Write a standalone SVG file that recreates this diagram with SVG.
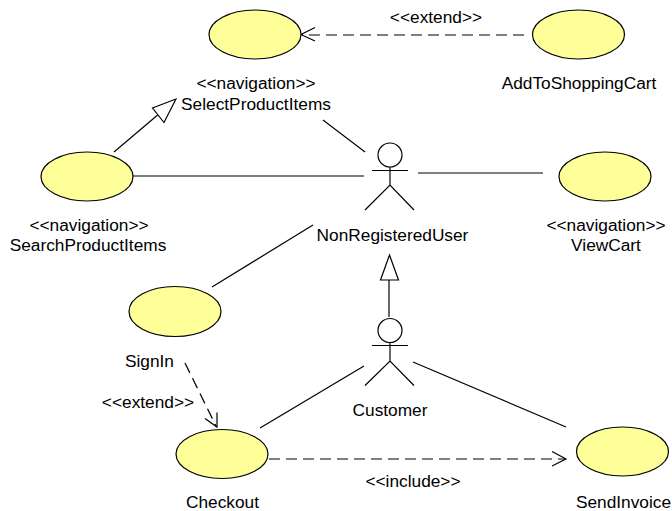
<svg xmlns="http://www.w3.org/2000/svg" width="672" height="511" viewBox="0 0 672 511">
<style>
.uc{fill:#ffff99;stroke:#000;stroke-width:1.2}
.ln{fill:none;stroke:#000;stroke-width:1.2}
.dash{stroke-dasharray:11 6}
.tri{fill:#fff;stroke:#000;stroke-width:1.2}
text{font-family:"Liberation Sans",Arial,sans-serif;font-size:17.300px;fill:#000;text-anchor:middle}
</style>
<rect width="672" height="511" fill="#fff"/>
<g id="connectors">
<path class="ln dash" d="M524 35H302"/>
<path class="ln" d="M315 27.500L301 34.500L315 41"/>
<path class="ln" d="M114 152L160 113"/>
<polygon class="tri" points="176,99 164,122.500 152.500,108"/>
<path class="ln" d="M323 120L365 152"/>
<path class="ln" d="M133 176H364"/>
<path class="ln" d="M418 173H543"/>
<path class="ln" d="M212 287L313 225"/>
<path class="ln" d="M389 317V280"/>
<polygon class="tri" points="389.500,255 398.500,280 380.500,280"/>
<path class="ln dash" d="M185 363L216 426"/>
<path class="ln" d="M205 418.500L217 427L217 412.500"/>
<path class="ln" d="M260 428L364 366"/>
<path class="ln" d="M413 362L566 427"/>
<path class="ln dash" d="M269 459H565"/>
<path class="ln" d="M552 451.500L566 459L552 466"/>
</g>
<g id="SelectProductItems"><ellipse class="uc" cx="255" cy="34.500" rx="46" ry="24.500"/><text x="256" y="89">&lt;&lt;navigation&gt;&gt;</text><text x="256" y="110">SelectProductItems</text></g>
<g id="AddToShoppingCart"><ellipse class="uc" cx="578.500" cy="34.500" rx="46" ry="24.500"/><text x="579" y="89">AddToShoppingCart</text></g>
<g id="SearchProductItems"><ellipse class="uc" cx="87" cy="176.500" rx="46" ry="24.500"/><text x="89" y="231">&lt;&lt;navigation&gt;&gt;</text><text x="88" y="251">SearchProductItems</text></g>
<g id="ViewCart"><ellipse class="uc" cx="605" cy="176.500" rx="46" ry="24.500"/><text x="606" y="231">&lt;&lt;navigation&gt;&gt;</text><text x="606" y="251">ViewCart</text></g>
<g id="SignIn"><ellipse class="uc" cx="175" cy="311.500" rx="46" ry="25"/><text x="149.500" y="367">SignIn</text></g>
<g id="Checkout"><ellipse class="uc" cx="222" cy="454" rx="46" ry="24.500"/><text x="222.500" y="508">Checkout</text></g>
<g id="SendInvoice"><ellipse class="uc" cx="622.500" cy="451.500" rx="46" ry="24.500"/><text x="623.500" y="508">SendInvoice</text></g>
<g id="NonRegisteredUser"><circle class="tri" cx="390" cy="155" r="12"/><path class="ln" d="M372 170.500H408M390 167V185M365 210L390 185L414 210"/><text x="392.500" y="241">NonRegisteredUser</text></g>
<g id="Customer"><circle class="tri" cx="390" cy="330.500" r="12"/><path class="ln" d="M372 345.500H408M390 342.500V361M365 385.500L390 361L414 385.500"/><text x="390" y="416">Customer</text></g>
<text x="436" y="23">&lt;&lt;extend&gt;&gt;</text>
<text x="148" y="408">&lt;&lt;extend&gt;&gt;</text>
<text x="413" y="487">&lt;&lt;include&gt;&gt;</text>
</svg>
